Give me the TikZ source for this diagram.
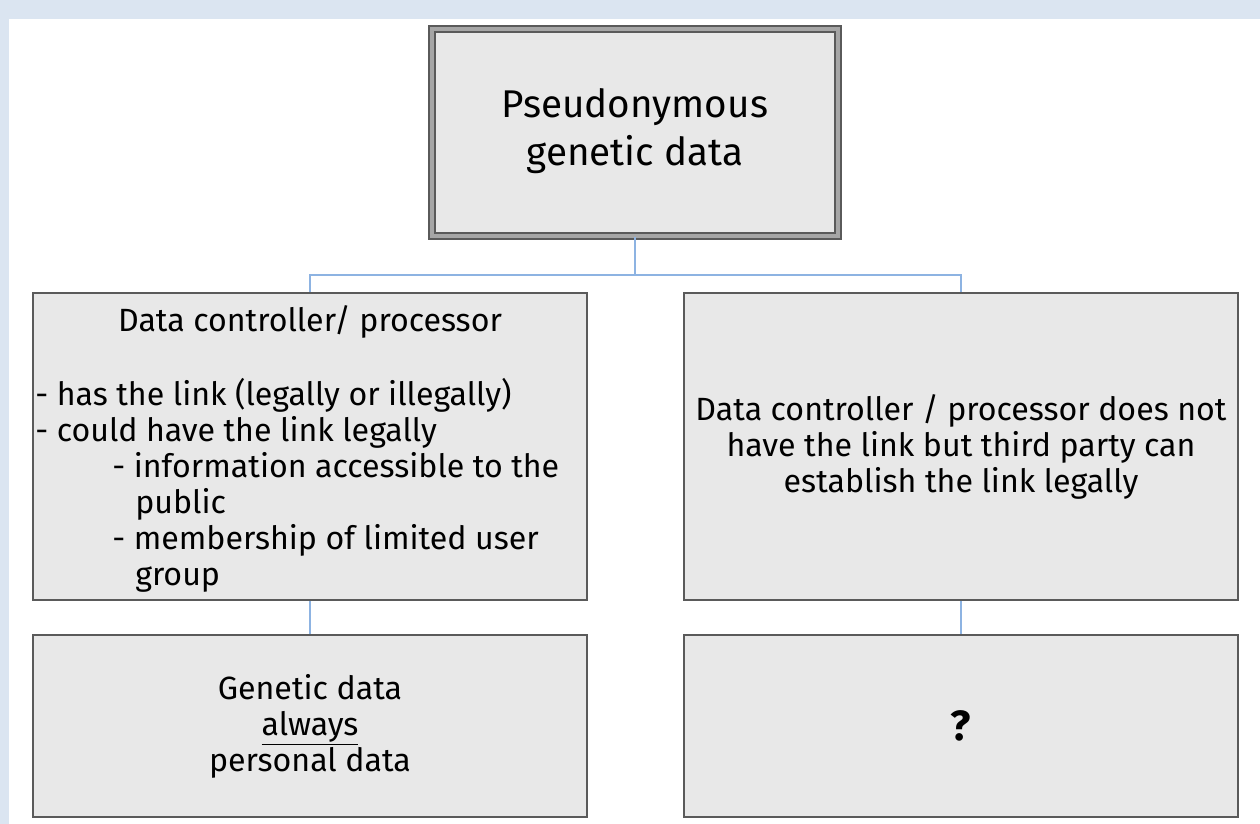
\documentclass[tikz,border=0pt]{standalone}
\usepackage{fontspec}
\setmainfont{Fira Sans}
\usepackage{tikz}

\definecolor{boxgray}{HTML}{E8E8E8}
\definecolor{edgegray}{HTML}{5A5A5A}
\definecolor{linkblue}{HTML}{8DB3E2}
\definecolor{pageblue}{HTML}{DBE5F1}

\begin{document}
\begin{tikzpicture}[x=0.02cm,y=-0.02cm,
  box/.style={draw=edgegray,line width=1pt,fill=boxgray,inner sep=0pt,
    minimum width=11.08cm},
  link/.style={draw=linkblue,line width=1.1pt},
  txt/.style={font=\fontsize{18.3}{20.5}\selectfont,inner sep=0pt,align=center},
  bigtxt/.style={font=\fontsize{22}{27.5}\selectfont,inner sep=0pt,align=center}]

\fill[pageblue] (0,0) rectangle (1260,824);

\fill[white] (9,19) rectangle (1260,824);

\useasboundingbox (0,0) rectangle (1260,824);

\node[box,double=black!35,double distance=2.5pt,minimum width=8.12cm,minimum height=4.14cm] (pseudo) at (635,132.5) {};

\node[box,minimum height=6.14cm] (ctrl) at (310,446.5) {};

\node[box,minimum height=6.14cm] (third) at (961,446.5) {};

\node[box,minimum height=3.64cm] (always) at (310,726) {};

\node[box,minimum height=3.64cm] (unknown) at (961,726) {};

\coordinate (fork) at (635,275);

\draw[link] (pseudo.south) -- (fork) -| (ctrl.north);

\draw[link] (fork) -| (third.north);

\draw[link] (ctrl) -- (always);

\draw[link] (third) -- (unknown);

\node[bigtxt] (pseudotext) at (635,131) {Pseudonymous\\genetic data};

\node[txt] (ctrltitle) at (310,322) {Data controller/ processor};

\node[txt,anchor=north west,align=left] (ctrllist) at (35,378) {- has the link (legally or illegally)\\
- could have the link legally\\
\hspace*{1.54cm}- information accessible to the\\
\hspace*{2.0cm}public\\
\hspace*{1.54cm}- membership of limited user\\
\hspace*{2.0cm}group};

\node[txt] (thirdtext) at (third.center) {Data controller / processor does not\\have the link but third party can\\establish the link legally};

\node[txt] (alwaystext) at (always.center) {Genetic data\\\underline{always}\\personal data};

\node[font=\fontsize{24}{28}\selectfont\bfseries,inner sep=0pt] (unknowntext) at (unknown.center) {?};

\end{tikzpicture}
\end{document}
